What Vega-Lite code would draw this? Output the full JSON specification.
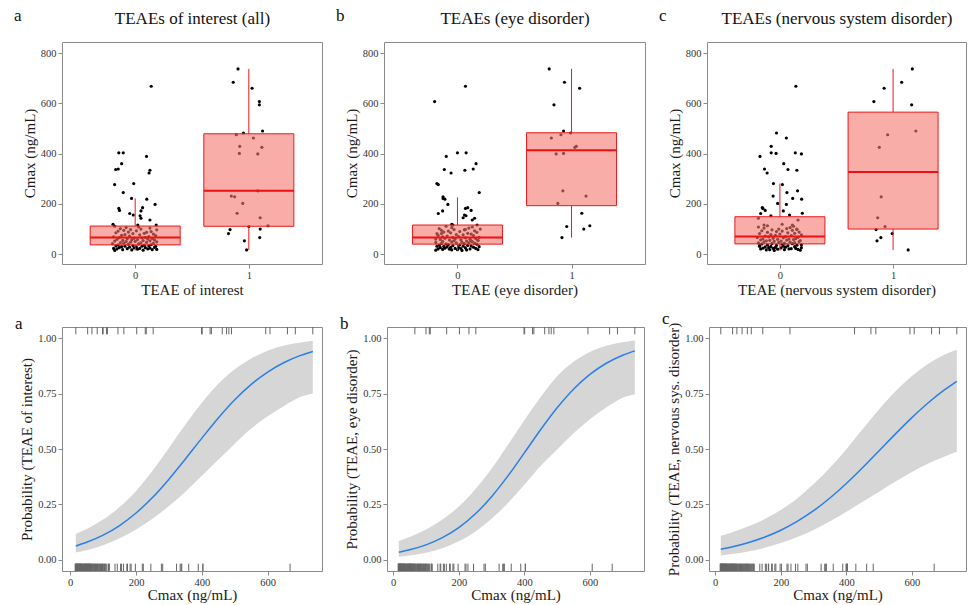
{
"$schema": "https://vega.github.io/schema/vega-lite/v6.json",
"padding": {"left": 13, "top": 6, "right": 0, "bottom": 0},
"config": {
 "font": "Liberation Serif",
 "background": "white",
 "view": {"stroke": "#8a8a8a", "strokeWidth": 1},
 "axis": {"grid": false, "domain": false, "tickColor": "#8a8a8a", "tickSize": 4, "labelFontSize": 10.5, "labelColor": "#333333", "labelPadding": 2, "titleFontSize": 15, "titleFontWeight": "normal", "titleColor": "#1a1a1a", "titlePadding": 4},
 "title": {"fontSize": 17, "fontWeight": "normal", "anchor": "start", "frame": "bounds", "color": "#111111", "offset": 2}
},
"datasets": {
 "box": [
  {"p":"a","g":0,"lo":15,"q1":37,"med":66,"q3":112,"hi":222},
  {"p":"a","g":1,"lo":17,"q1":111,"med":252,"q3":479,"hi":737},
  {"p":"b","g":0,"lo":15,"q1":40,"med":66,"q3":116,"hi":226},
  {"p":"b","g":1,"lo":66,"q1":193,"med":413,"q3":483,"hi":737},
  {"p":"c","g":0,"lo":15,"q1":41,"med":70,"q3":149,"hi":281},
  {"p":"c","g":1,"lo":17,"q1":100,"med":327,"q3":565,"hi":737}
 ],
 "curve": [
  {"p":"a","c":17,"pr":0.0629,"lo":0.0329,"hi":0.117},
  {"p":"a","c":50,"pr":0.0793,"lo":0.0439,"hi":0.139},
  {"p":"a","c":100,"pr":0.1117,"lo":0.0664,"hi":0.182},
  {"p":"a","c":150,"pr":0.155,"lo":0.0976,"hi":0.238},
  {"p":"a","c":200,"pr":0.2115,"lo":0.1375,"hi":0.311},
  {"p":"a","c":250,"pr":0.281,"lo":0.186,"hi":0.402},
  {"p":"a","c":300,"pr":0.364,"lo":0.2425,"hi":0.505},
  {"p":"a","c":350,"pr":0.455,"lo":0.3077,"hi":0.6105},
  {"p":"a","c":400,"pr":0.549,"lo":0.379,"hi":0.708},
  {"p":"a","c":450,"pr":0.64,"lo":0.452,"hi":0.794},
  {"p":"a","c":500,"pr":0.722,"lo":0.524,"hi":0.86},
  {"p":"a","c":550,"pr":0.7915,"lo":0.5925,"hi":0.9084},
  {"p":"a","c":600,"pr":0.847,"lo":0.648,"hi":0.9433},
  {"p":"a","c":650,"pr":0.89,"lo":0.694,"hi":0.9665},
  {"p":"a","c":700,"pr":0.922,"lo":0.735,"hi":0.9805},
  {"p":"a","c":737,"pr":0.94,"lo":0.75,"hi":0.988},
  {"p":"b","c":17,"pr":0.0347,"lo":0.0137,"hi":0.085},
  {"p":"b","c":50,"pr":0.0455,"lo":0.0194,"hi":0.103},
  {"p":"b","c":100,"pr":0.0678,"lo":0.0323,"hi":0.137},
  {"p":"b","c":150,"pr":0.1002,"lo":0.0529,"hi":0.182},
  {"p":"b","c":200,"pr":0.1456,"lo":0.084,"hi":0.2405},
  {"p":"b","c":250,"pr":0.2067,"lo":0.1273,"hi":0.3176},
  {"p":"b","c":300,"pr":0.285,"lo":0.1854,"hi":0.411},
  {"p":"b","c":350,"pr":0.3787,"lo":0.2563,"hi":0.5187},
  {"p":"b","c":400,"pr":0.4825,"lo":0.3385,"hi":0.6295},
  {"p":"b","c":450,"pr":0.5878,"lo":0.4243,"hi":0.734},
  {"p":"b","c":500,"pr":0.6857,"lo":0.4975,"hi":0.8278},
  {"p":"b","c":550,"pr":0.7694,"lo":0.5708,"hi":0.8933},
  {"p":"b","c":600,"pr":0.8362,"lo":0.634,"hi":0.9376},
  {"p":"b","c":650,"pr":0.8865,"lo":0.6868,"hi":0.9653},
  {"p":"b","c":700,"pr":0.9227,"lo":0.731,"hi":0.9813},
  {"p":"b","c":737,"pr":0.9424,"lo":0.7454,"hi":0.9892},
  {"p":"c","c":17,"pr":0.048,"lo":0.0203,"hi":0.1094},
  {"p":"c","c":50,"pr":0.0581,"lo":0.0262,"hi":0.124},
  {"p":"c","c":100,"pr":0.0773,"lo":0.0381,"hi":0.1507},
  {"p":"c","c":150,"pr":0.1022,"lo":0.0545,"hi":0.1835},
  {"p":"c","c":200,"pr":0.1339,"lo":0.076,"hi":0.225},
  {"p":"c","c":250,"pr":0.1735,"lo":0.1033,"hi":0.2767},
  {"p":"c","c":300,"pr":0.2218,"lo":0.1353,"hi":0.3419},
  {"p":"c","c":350,"pr":0.2791,"lo":0.1738,"hi":0.416},
  {"p":"c","c":400,"pr":0.3446,"lo":0.217,"hi":0.4993},
  {"p":"c","c":450,"pr":0.4165,"lo":0.2617,"hi":0.5897},
  {"p":"c","c":500,"pr":0.4923,"lo":0.3077,"hi":0.679},
  {"p":"c","c":550,"pr":0.5683,"lo":0.3532,"hi":0.7605},
  {"p":"c","c":600,"pr":0.6413,"lo":0.3968,"hi":0.8293},
  {"p":"c","c":650,"pr":0.7083,"lo":0.4346,"hi":0.8847},
  {"p":"c","c":700,"pr":0.7673,"lo":0.4658,"hi":0.9258},
  {"p":"c","c":737,"pr":0.8052,"lo":0.4874,"hi":0.9473}
 ],
 "pts": [
  {"c":17,"xa":0.981,"xb":-0.05,"xc":1.133},
  {"c":53,"xa":0.961,"xb":0.12,"xc":0.858},
  {"c":66,"xa":1.096,"xb":0.916,"xc":0.892},
  {"c":82,"xa":0.821,"xb":-0.14,"xc":0.992},
  {"c":98,"xa":0.835,"xb":0.07,"xc":0.85},
  {"c":100,"xa":1.1,"xb":1.107,"xc":0.15},
  {"c":110,"xa":1.0,"xb":0.958,"xc":0.929},
  {"c":113,"xa":1.169,"xb":1.16,"xc":-0.11},
  {"c":145,"xa":1.1,"xb":0.05,"xc":0.864},
  {"c":163,"xa":0.897,"xb":1.09,"xc":0.198},
  {"c":202,"xa":0.947,"xb":0.88,"xc":-0.02},
  {"c":228,"xa":0.875,"xb":-0.126,"xc":0.895},
  {"c":231,"xa":0.846,"xb":1.127,"xc":-0.06},
  {"c":252,"xa":1.079,"xb":0.924,"xc":0.156},
  {"c":399,"xa":1.079,"xb":0.865,"xc":0.19},
  {"c":401,"xa":0.917,"xb":0.93,"xc":-0.034},
  {"c":425,"xa":1.115,"xb":1.029,"xc":0.878},
  {"c":429,"xa":0.92,"xb":1.042,"xc":-0.077},
  {"c":462,"xa":1.04,"xb":0.823,"xc":0.057},
  {"c":475,"xa":0.89,"xb":0.907,"xc":0.952},
  {"c":482,"xa":0.953,"xb":0.992,"xc":-0.03},
  {"c":490,"xa":1.121,"xb":0.93,"xc":1.201},
  {"c":594,"xa":1.093,"xb":0.846,"xc":1.164},
  {"c":607,"xa":1.093,"xb":-0.2,"xc":0.83},
  {"c":660,"xa":1.029,"xb":1.071,"xc":0.921},
  {"c":684,"xa":0.863,"xb":0.938,"xc":1.076},
  {"c":737,"xa":0.905,"xb":0.804,"xc":1.17},
  {"c":668,"xa":0.141,"xb":0.07,"xc":0.141},
  {"c":403,"xa":-0.144,"xb":0.0,"xc":-0.077},
  {"c":403,"xa":-0.105,"xb":0.076,"xc":0.136},
  {"c":389,"xa":0.1,"xb":-0.098,"xc":-0.176},
  {"c":360,"xa":-0.119,"xb":0.163,"xc":0.034},
  {"c":337,"xa":-0.172,"xb":-0.115,"xc":0.071},
  {"c":339,"xa":-0.149,"xb":0.138,"xc":-0.136},
  {"c":334,"xa":0.13,"xb":0.065,"xc":0.15},
  {"c":323,"xa":0.122,"xb":-0.056,"xc":-0.113},
  {"c":277,"xa":-0.181,"xb":-0.168,"xc":0.022},
  {"c":281,"xa":-0.013,"xb":-0.18,"xc":-0.057},
  {"c":245,"xa":-0.105,"xb":0.191,"xc":0.062},
  {"c":222,"xa":-0.032,"xb":-0.126,"xc":0.113},
  {"c":219,"xa":0.102,"xb":-0.11,"xc":0.192},
  {"c":198,"xa":0.175,"xb":-0.084,"xc":0.057},
  {"c":182,"xa":-0.144,"xb":0.07,"xc":-0.15},
  {"c":174,"xa":-0.138,"xb":0.12,"xc":-0.13},
  {"c":185,"xa":0.065,"xb":0.09,"xc":-0.156},
  {"c":172,"xa":0.051,"xb":-0.13,"xc":0.03},
  {"c":162,"xa":-0.048,"xb":-0.168,"xc":-0.17},
  {"c":156,"xa":-0.017,"xb":0.062,"xc":0.085},
  {"c":153,"xa":0.043,"xb":0.075,"xc":-0.08},
  {"c":143,"xa":0.051,"xb":0.15,"xc":-0.19},
  {"c":136,"xa":0.13,"xb":0.13,"xc":0.16},
  {"c":119,"xa":-0.195,"xb":-0.05,"xc":0.02},
  {"c":116,"xa":0.185,"xb":0.172,"xc":0.11},
  {"c":116,"xa":0.023,"xb":-0.04,"xc":-0.14},
  {"c":15,"xa":-0.18,"xb":0.04,"xc":-0.05},
  {"c":16,"xa":0.07,"xb":-0.19,"xc":0.18},
  {"c":17,"xa":-0.03,"xb":0.08,"xc":-0.12},
  {"c":18,"xa":0.15,"xb":0.0,"xc":0.04},
  {"c":18,"xa":-0.11,"xb":0.18,"xc":-0.09},
  {"c":19,"xa":0.19,"xb":-0.13,"xc":0.16},
  {"c":20,"xa":0.02,"xb":-0.07,"xc":-0.02},
  {"c":21,"xa":-0.16,"xb":0.11,"xc":0.08},
  {"c":21,"xa":0.11,"xb":-0.17,"xc":-0.17},
  {"c":22,"xa":-0.07,"xb":0.03,"xc":0.1},
  {"c":23,"xa":0.04,"xb":-0.02,"xc":-0.06},
  {"c":23,"xa":-0.19,"xb":0.16,"xc":0.14},
  {"c":24,"xa":0.13,"xb":-0.11,"xc":-0.15},
  {"c":25,"xa":-0.01,"xb":0.07,"xc":0.01},
  {"c":26,"xa":0.09,"xb":-0.15,"xc":-0.1},
  {"c":26,"xa":-0.14,"xb":0.01,"xc":0.19},
  {"c":27,"xa":0.17,"xb":-0.06,"xc":-0.04},
  {"c":28,"xa":-0.05,"xb":0.14,"xc":0.05},
  {"c":29,"xa":0.01,"xb":-0.09,"xc":-0.13},
  {"c":30,"xa":-0.12,"xb":0.19,"xc":0.13},
  {"c":31,"xa":0.18,"xb":-0.12,"xc":-0.08},
  {"c":32,"xa":-0.09,"xb":0.05,"xc":0.03},
  {"c":32,"xa":0.06,"xb":-0.18,"xc":-0.18},
  {"c":33,"xa":-0.17,"xb":0.12,"xc":-0.18},
  {"c":34,"xa":0.12,"xb":-0.04,"xc":0.07},
  {"c":35,"xa":-0.02,"xb":0.09,"xc":-0.03},
  {"c":36,"xa":0.08,"xb":-0.16,"xc":0.15},
  {"c":37,"xa":-0.15,"xb":0.02,"xc":-0.11},
  {"c":38,"xa":0.14,"xb":-0.08,"xc":0.19},
  {"c":40,"xa":-0.06,"xb":0.17,"xc":0.02},
  {"c":41,"xa":0.03,"xb":-0.1,"xc":-0.16},
  {"c":42,"xa":-0.2,"xb":0.06,"xc":0.11},
  {"c":43,"xa":0.16,"xb":-0.14,"xc":-0.07},
  {"c":44,"xa":-0.1,"xb":0.15,"xc":0.04},
  {"c":45,"xa":0.05,"xb":-0.01,"xc":-0.19},
  {"c":46,"xa":-0.13,"xb":0.1,"xc":0.13},
  {"c":47,"xa":0.1,"xb":-0.19,"xc":-0.01},
  {"c":48,"xa":-0.04,"xb":0.04,"xc":0.09},
  {"c":49,"xa":0.19,"xb":-0.05,"xc":-0.14},
  {"c":50,"xa":-0.08,"xb":0.13,"xc":0.17},
  {"c":51,"xa":0.0,"xb":-0.13,"xc":-0.05},
  {"c":52,"xa":-0.18,"xb":0.08,"xc":0.01},
  {"c":53,"xa":0.13,"xb":-0.03,"xc":-0.12},
  {"c":54,"xa":0.07,"xb":0.18,"xc":0.18},
  {"c":55,"xa":-0.11,"xb":0.18,"xc":-0.09},
  {"c":56,"xa":0.17,"xb":-0.07,"xc":0.06},
  {"c":57,"xa":-0.03,"xb":0.03,"xc":-0.17},
  {"c":58,"xa":0.02,"xb":-0.15,"xc":0.12},
  {"c":59,"xa":-0.16,"xb":0.11,"xc":-0.02},
  {"c":60,"xa":0.11,"xb":-0.19,"xc":0.08},
  {"c":61,"xa":-0.07,"xb":-0.02,"xc":-0.15},
  {"c":62,"xa":0.15,"xb":0.16,"xc":0.14},
  {"c":63,"xa":-0.01,"xb":-0.11,"xc":-0.06},
  {"c":65,"xa":0.06,"xb":0.07,"xc":0.03},
  {"c":66,"xa":-0.14,"xb":-0.04,"xc":-0.2},
  {"c":67,"xa":0.09,"xb":0.19,"xc":0.16},
  {"c":69,"xa":-0.19,"xb":-0.13,"xc":-0.1},
  {"c":70,"xa":0.12,"xb":0.01,"xc":0.05},
  {"c":72,"xa":-0.05,"xb":-0.09,"xc":-0.13},
  {"c":74,"xa":0.18,"xb":0.14,"xc":0.1},
  {"c":75,"xa":-0.12,"xb":-0.17,"xc":-0.04},
  {"c":77,"xa":0.04,"xb":0.05,"xc":0.19},
  {"c":78,"xa":-0.09,"xb":-0.01,"xc":-0.08},
  {"c":80,"xa":0.16,"xb":0.12,"xc":0.0},
  {"c":82,"xa":-0.02,"xb":-0.18,"xc":-0.18},
  {"c":83,"xa":0.08,"xb":0.09,"xc":0.13},
  {"c":85,"xa":-0.17,"xb":-0.06,"xc":0.07},
  {"c":87,"xa":0.1,"xb":0.17,"xc":-0.11},
  {"c":88,"xa":-0.06,"xb":-0.12,"xc":0.17},
  {"c":90,"xa":0.14,"xb":0.02,"xc":-0.03},
  {"c":92,"xa":-0.15,"xb":-0.08,"xc":0.02},
  {"c":93,"xa":0.01,"xb":0.15,"xc":-0.16},
  {"c":95,"xa":-0.1,"xb":-0.14,"xc":0.11},
  {"c":97,"xa":0.19,"xb":0.06,"xc":-0.07},
  {"c":98,"xa":-0.04,"xb":-0.03,"xc":0.15},
  {"c":100,"xa":0.05,"xb":0.2,"xc":-0.01},
  {"c":102,"xa":-0.13,"xb":-0.16,"xc":0.06},
  {"c":104,"xa":0.13,"xb":0.1,"xc":-0.14},
  {"c":106,"xa":-0.08,"xb":-0.05,"xc":0.09},
  {"c":108,"xa":0.03,"xb":0.13,"xc":-0.19},
  {"c":111,"xa":-0.18,"xb":-0.1,"xc":0.12}
 ]
},
"spacing": 11,
"vconcat": [
 {"hconcat": [
  {"width": 260, "height": 222, "title": {"text": "a", "dx": -8, "dy": 18},
   "resolve": {"axis": {"x": "independent"}},
   "layer": [
    {"data": {"name": "pts"}, "mark": {"type": "circle", "size": 10, "color": "#000000", "opacity": 1},
     "encoding": {
      "x": {"field": "xa", "type": "quantitative", "scale": {"domain": [-0.6, 1.6], "nice": false, "zero": false}, "axis": {"orient": "bottom", "values": [0, 1], "format": "d", "title": "TEAE of interest", "titlePadding": 2}},
      "y": {"field": "c", "type": "quantitative", "scale": {"domain": [-39, 844], "nice": false, "zero": false}, "axis": {"values": [0, 200, 400, 600, 800], "title": "Cmax (ng/mL)", "minExtent": 22, "maxExtent": 22, "titlePadding": 3}}}},
    {"data": {"name": "box"}, "transform": [{"filter": "datum.p == 'a'"}], "mark": {"type": "rule", "color": "#e8191a", "strokeWidth": 1}, "encoding": {"x": {"field": "g", "type": "quantitative", "axis": null}, "y": {"field": "lo", "type": "quantitative"}, "y2": {"field": "q1"}}},
    {"data": {"name": "box"}, "transform": [{"filter": "datum.p == 'a'"}], "mark": {"type": "rule", "color": "#e8191a", "strokeWidth": 1}, "encoding": {"x": {"field": "g", "type": "quantitative", "axis": null}, "y": {"field": "q3", "type": "quantitative"}, "y2": {"field": "hi"}}},
    {"data": {"name": "box"}, "transform": [{"filter": "datum.p == 'a'"}], "mark": {"type": "bar", "size": 90, "fill": "#f4766e", "fillOpacity": 0.6, "stroke": "#e8191a", "strokeWidth": 1}, "encoding": {"x": {"field": "g", "type": "quantitative", "axis": {"orient": "top", "title": "TEAEs of interest (all)", "labels": false, "ticks": false, "domain": false, "titleFontSize": 17, "titlePadding": 15, "titleColor": "#111111"}}, "y": {"field": "q1", "type": "quantitative"}, "y2": {"field": "q3"}}},
    {"data": {"name": "box"}, "transform": [{"filter": "datum.p == 'a'"}], "mark": {"type": "tick", "size": 90, "thickness": 2, "color": "#ee1111", "orient": "horizontal", "opacity": 1}, "encoding": {"x": {"field": "g", "type": "quantitative", "axis": null}, "y": {"field": "med", "type": "quantitative"}}}
   ]},
  {"width": 261, "height": 222, "title": {"text": "b", "dx": -8, "dy": 18},
   "resolve": {"axis": {"x": "independent"}},
   "layer": [
    {"data": {"name": "pts"}, "mark": {"type": "circle", "size": 10, "color": "#000000", "opacity": 1},
     "encoding": {
      "x": {"field": "xb", "type": "quantitative", "scale": {"domain": [-0.6, 1.6], "nice": false, "zero": false}, "axis": {"orient": "bottom", "values": [0, 1], "format": "d", "title": "TEAE (eye disorder)", "titlePadding": 2}},
      "y": {"field": "c", "type": "quantitative", "scale": {"domain": [-39, 844], "nice": false, "zero": false}, "axis": {"values": [0, 200, 400, 600, 800], "title": "Cmax (ng/mL)", "minExtent": 22, "maxExtent": 22, "titlePadding": 3}}}},
    {"data": {"name": "box"}, "transform": [{"filter": "datum.p == 'b'"}], "mark": {"type": "rule", "color": "#e8191a", "strokeWidth": 1}, "encoding": {"x": {"field": "g", "type": "quantitative", "axis": null}, "y": {"field": "lo", "type": "quantitative"}, "y2": {"field": "q1"}}},
    {"data": {"name": "box"}, "transform": [{"filter": "datum.p == 'b'"}], "mark": {"type": "rule", "color": "#e8191a", "strokeWidth": 1}, "encoding": {"x": {"field": "g", "type": "quantitative", "axis": null}, "y": {"field": "q3", "type": "quantitative"}, "y2": {"field": "hi"}}},
    {"data": {"name": "box"}, "transform": [{"filter": "datum.p == 'b'"}], "mark": {"type": "bar", "size": 90, "fill": "#f4766e", "fillOpacity": 0.6, "stroke": "#e8191a", "strokeWidth": 1}, "encoding": {"x": {"field": "g", "type": "quantitative", "axis": {"orient": "top", "title": "TEAEs (eye disorder)", "labels": false, "ticks": false, "domain": false, "titleFontSize": 17, "titlePadding": 15, "titleColor": "#111111"}}, "y": {"field": "q1", "type": "quantitative"}, "y2": {"field": "q3"}}},
    {"data": {"name": "box"}, "transform": [{"filter": "datum.p == 'b'"}], "mark": {"type": "tick", "size": 90, "thickness": 2, "color": "#ee1111", "orient": "horizontal", "opacity": 1}, "encoding": {"x": {"field": "g", "type": "quantitative", "axis": null}, "y": {"field": "med", "type": "quantitative"}}}
   ]},
  {"width": 259, "height": 222, "title": {"text": "c", "dx": -8, "dy": 18},
   "resolve": {"axis": {"x": "independent"}},
   "layer": [
    {"data": {"name": "pts"}, "mark": {"type": "circle", "size": 10, "color": "#000000", "opacity": 1},
     "encoding": {
      "x": {"field": "xc", "type": "quantitative", "scale": {"domain": [-0.6, 1.6], "nice": false, "zero": false}, "axis": {"orient": "bottom", "values": [0, 1], "format": "d", "title": "TEAE (nervous system disorder)", "titlePadding": 2}},
      "y": {"field": "c", "type": "quantitative", "scale": {"domain": [-39, 844], "nice": false, "zero": false}, "axis": {"values": [0, 200, 400, 600, 800], "title": "Cmax (ng/mL)", "minExtent": 22, "maxExtent": 22, "titlePadding": 3}}}},
    {"data": {"name": "box"}, "transform": [{"filter": "datum.p == 'c'"}], "mark": {"type": "rule", "color": "#e8191a", "strokeWidth": 1}, "encoding": {"x": {"field": "g", "type": "quantitative", "axis": null}, "y": {"field": "lo", "type": "quantitative"}, "y2": {"field": "q1"}}},
    {"data": {"name": "box"}, "transform": [{"filter": "datum.p == 'c'"}], "mark": {"type": "rule", "color": "#e8191a", "strokeWidth": 1}, "encoding": {"x": {"field": "g", "type": "quantitative", "axis": null}, "y": {"field": "q3", "type": "quantitative"}, "y2": {"field": "hi"}}},
    {"data": {"name": "box"}, "transform": [{"filter": "datum.p == 'c'"}], "mark": {"type": "bar", "size": 90, "fill": "#f4766e", "fillOpacity": 0.6, "stroke": "#e8191a", "strokeWidth": 1}, "encoding": {"x": {"field": "g", "type": "quantitative", "axis": {"orient": "top", "title": "TEAEs (nervous system disorder)", "labels": false, "ticks": false, "domain": false, "titleFontSize": 17, "titlePadding": 15, "titleColor": "#111111"}}, "y": {"field": "q1", "type": "quantitative"}, "y2": {"field": "q3"}}},
    {"data": {"name": "box"}, "transform": [{"filter": "datum.p == 'c'"}], "mark": {"type": "tick", "size": 90, "thickness": 2, "color": "#ee1111", "orient": "horizontal", "opacity": 1}, "encoding": {"x": {"field": "g", "type": "quantitative", "axis": null}, "y": {"field": "med", "type": "quantitative"}}}
   ]}
 ], "spacing": 62, "bounds": "flush"},
 {"hconcat": [
  {"width": 260, "height": 244, "title": {"text": "a", "dx": -4, "dy": 7, "offset": 1},
   "layer": [
    {"data": {"name": "curve"}, "transform": [{"filter": "datum.p == 'a'"}], "mark": {"type": "area", "color": "#999999", "opacity": 0.4, "interpolate": "monotone"},
     "encoding": {"x": {"field": "c", "type": "quantitative", "scale": {"domain": [-25, 765], "nice": false, "zero": false}, "axis": {"values": [0, 200, 400, 600], "title": "Cmax (ng/mL)", "titlePadding": 0}},
      "y": {"field": "lo", "type": "quantitative", "scale": {"domain": [-0.05, 1.05], "nice": false, "zero": false}, "axis": {"values": [0, 0.25, 0.5, 0.75, 1], "format": ".2f", "title": "Probability (TEAE of interest)", "minExtent": 27, "maxExtent": 27, "titlePadding": 1}},
      "y2": {"field": "hi"}}},
    {"data": {"name": "curve"}, "transform": [{"filter": "datum.p == 'a'"}], "mark": {"type": "line", "color": "#2b7fe3", "strokeWidth": 1.5, "interpolate": "monotone"},
     "encoding": {"x": {"field": "c", "type": "quantitative"}, "y": {"field": "pr", "type": "quantitative"}}},
    {"data": {"name": "pts"}, "transform": [{"filter": "datum.xa > 0.5"}], "mark": {"type": "rule", "color": "#666666", "strokeWidth": 1},
     "encoding": {"x": {"field": "c", "type": "quantitative"}, "y": {"datum": 1.05, "type": "quantitative"}, "y2": {"datum": 1.017}}},
    {"data": {"name": "pts"}, "transform": [{"filter": "datum.xa < 0.5"}], "mark": {"type": "rule", "color": "#666666", "strokeWidth": 1},
     "encoding": {"x": {"field": "c", "type": "quantitative"}, "y": {"datum": -0.05, "type": "quantitative"}, "y2": {"datum": -0.017}}}
   ]},
  {"width": 257, "height": 244, "title": {"text": "b", "dx": -4, "dy": 7, "offset": 1},
   "layer": [
    {"data": {"name": "curve"}, "transform": [{"filter": "datum.p == 'b'"}], "mark": {"type": "area", "color": "#999999", "opacity": 0.4, "interpolate": "monotone"},
     "encoding": {"x": {"field": "c", "type": "quantitative", "scale": {"domain": [-19, 765], "nice": false, "zero": false}, "axis": {"values": [0, 200, 400, 600], "title": "Cmax (ng/mL)", "titlePadding": 0}},
      "y": {"field": "lo", "type": "quantitative", "scale": {"domain": [-0.05, 1.05], "nice": false, "zero": false}, "axis": {"values": [0, 0.25, 0.5, 0.75, 1], "format": ".2f", "title": "Probability (TEAE, eye disorder)", "minExtent": 27, "maxExtent": 27, "titlePadding": 1}},
      "y2": {"field": "hi"}}},
    {"data": {"name": "curve"}, "transform": [{"filter": "datum.p == 'b'"}], "mark": {"type": "line", "color": "#2b7fe3", "strokeWidth": 1.5, "interpolate": "monotone"},
     "encoding": {"x": {"field": "c", "type": "quantitative"}, "y": {"field": "pr", "type": "quantitative"}}},
    {"data": {"name": "pts"}, "transform": [{"filter": "datum.xb > 0.5"}], "mark": {"type": "rule", "color": "#666666", "strokeWidth": 1},
     "encoding": {"x": {"field": "c", "type": "quantitative"}, "y": {"datum": 1.05, "type": "quantitative"}, "y2": {"datum": 1.017}}},
    {"data": {"name": "pts"}, "transform": [{"filter": "datum.xb < 0.5"}], "mark": {"type": "rule", "color": "#666666", "strokeWidth": 1},
     "encoding": {"x": {"field": "c", "type": "quantitative"}, "y": {"datum": -0.05, "type": "quantitative"}, "y2": {"datum": -0.017}}}
   ]},
  {"width": 257, "height": 244, "title": {"text": "c", "dx": -4, "dy": 7, "offset": 1},
   "layer": [
    {"data": {"name": "curve"}, "transform": [{"filter": "datum.p == 'c'"}], "mark": {"type": "area", "color": "#999999", "opacity": 0.4, "interpolate": "monotone"},
     "encoding": {"x": {"field": "c", "type": "quantitative", "scale": {"domain": [-19, 765], "nice": false, "zero": false}, "axis": {"values": [0, 200, 400, 600], "title": "Cmax (ng/mL)", "titlePadding": 0}},
      "y": {"field": "lo", "type": "quantitative", "scale": {"domain": [-0.05, 1.05], "nice": false, "zero": false}, "axis": {"values": [0, 0.25, 0.5, 0.75, 1], "format": ".2f", "title": "Probability (TEAE, nervous sys. disorder)", "minExtent": 27, "maxExtent": 27, "titlePadding": 1}},
      "y2": {"field": "hi"}}},
    {"data": {"name": "curve"}, "transform": [{"filter": "datum.p == 'c'"}], "mark": {"type": "line", "color": "#2b7fe3", "strokeWidth": 1.5, "interpolate": "monotone"},
     "encoding": {"x": {"field": "c", "type": "quantitative"}, "y": {"field": "pr", "type": "quantitative"}}},
    {"data": {"name": "pts"}, "transform": [{"filter": "datum.xc > 0.5"}], "mark": {"type": "rule", "color": "#666666", "strokeWidth": 1},
     "encoding": {"x": {"field": "c", "type": "quantitative"}, "y": {"datum": 1.05, "type": "quantitative"}, "y2": {"datum": 1.017}}},
    {"data": {"name": "pts"}, "transform": [{"filter": "datum.xc < 0.5"}], "mark": {"type": "rule", "color": "#666666", "strokeWidth": 1},
     "encoding": {"x": {"field": "c", "type": "quantitative"}, "y": {"datum": -0.05, "type": "quantitative"}, "y2": {"datum": -0.017}}}
   ]}
 ], "spacing": 65, "bounds": "flush"}
]
}
